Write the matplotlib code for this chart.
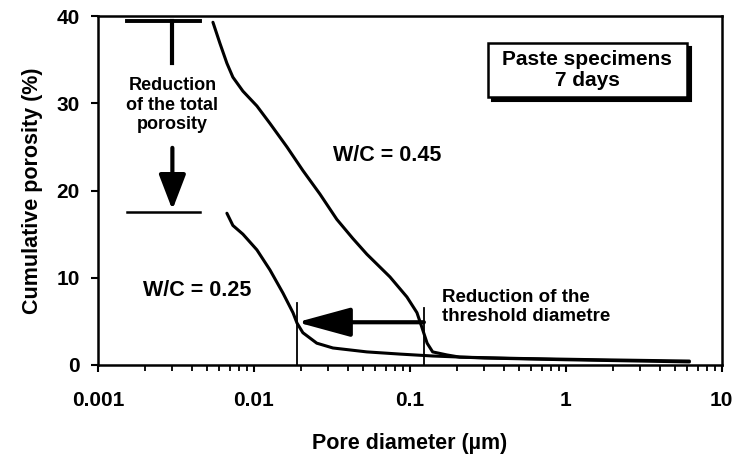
import numpy as np
import matplotlib.pyplot as plt
from matplotlib.patches import Rectangle

plt.rcParams['font.family'] = ['Liberation Sans', 'DejaVu Sans']
plt.rcParams['font.weight'] = 'bold'

# W/C = 0.45 curve (pore diameter um, cumulative porosity %)
d45 = [0.00546, 0.00605, 0.00671, 0.00733, 0.0085, 0.01045, 0.01267, 0.01629,
       0.0206, 0.0265, 0.034, 0.0431, 0.053, 0.0745, 0.0957, 0.111, 0.119,
       0.129, 0.140, 0.173, 0.209, 0.5, 1.6, 6.2]
p45 = [39.3, 36.9, 34.6, 33.0, 31.4, 29.7, 27.7, 25.0,
       22.3, 19.6, 16.7, 14.5, 12.7, 10.1, 7.8, 6.0, 4.4,
       2.5, 1.5, 1.15, 0.9, 0.75, 0.6, 0.45]

# W/C = 0.25 curve
d25 = [0.00671, 0.00733, 0.0085, 0.01045, 0.01267, 0.01535, 0.0178, 0.0189,
       0.0206, 0.0253, 0.0321, 0.053, 0.0863, 0.140, 0.3, 1.0, 3.0, 6.2]
p25 = [17.4, 16.0, 15.0, 13.2, 10.9, 8.25, 6.0, 4.8,
       3.7, 2.5, 1.95, 1.5, 1.25, 1.03, 0.8, 0.6, 0.45, 0.35]

xticks = [0.001, 0.01, 0.1, 1, 10]
xticklabels = ['0.001', '0.01', '0.1', '1', '10']
yticks = [0, 10, 20, 30, 40]

# threshold diameters and total porosity levels
thr25, thr45 = 0.0189, 0.123
tot45, tot25 = 39.5, 17.5

fig = plt.figure(figsize=(7.35, 4.62), dpi=100)
ax = fig.add_axes([0.1333, 0.21, 0.8487, 0.755])

ax.plot(d45, p45, color='black', lw=2.2, solid_capstyle='round', solid_joinstyle='round')
ax.plot(d25, p25, color='black', lw=2.2, solid_capstyle='round', solid_joinstyle='round')

ax.set_xscale('log')
ax.set_xlim(0.001, 10)
ax.set_ylim(0, 40)
ax.set_xticks(xticks)
ax.set_xticklabels(xticklabels)
ax.set_yticks(yticks)
ax.tick_params(axis='both', which='major', direction='out', length=5, width=1.5,
               labelsize=15, pad=8)
ax.tick_params(axis='x', which='minor', direction='out', length=4, width=1.3)
ax.tick_params(axis='x', which='major', pad=14)
for s in ax.spines.values():
    s.set_linewidth(1.8)

ax.set_xlabel('Pore diameter (µm)', fontsize=15.5, fontweight='bold', labelpad=16)
ax.set_ylabel('Cumulative porosity (%)', fontsize=15.5, fontweight='bold', labelpad=10)

# threshold markers
ax.plot([thr25, thr25], [0, 7.1], color='black', lw=1.3)
ax.plot([thr45, thr45], [0, 6.5], color='black', lw=1.3)
ax.annotate('', xy=(thr25, 4.9), xytext=(thr45, 4.9),
            arrowprops=dict(arrowstyle='-|>,head_length=1.1,head_width=0.3',
                            color='black', lw=3, mutation_scale=30,
                            shrinkA=0, shrinkB=0))
ax.text(0.16, 6.6, 'Reduction of the\nthreshold diametre', fontsize=13.5,
        fontweight='bold', ha='left', va='center', linespacing=1.15)

# total porosity markers
xa = 0.003
ax.plot([0.00153, 0.0045], [tot45, tot45], color='black', lw=2.8)
ax.plot([0.00153, 0.0045], [tot25, tot25], color='black', lw=1.8)
ax.plot([xa, xa], [tot45, 34.6], color='black', lw=3)
ax.annotate('', xy=(xa, 17.8), xytext=(xa, 24.9),
            arrowprops=dict(arrowstyle='-|>,head_length=0.86,head_width=0.33',
                            color='black', lw=3, mutation_scale=25,
                            shrinkA=0, shrinkB=0))
ax.text(xa, 29.8, 'Reduction\nof the total\nporosity', fontsize=13,
        fontweight='bold', ha='center', va='center', linespacing=1.2)

ax.text(0.0713, 24.0, 'W/C = 0.45', fontsize=15.5, fontweight='bold',
        ha='center', va='center')
ax.text(0.00431, 8.5, 'W/C = 0.25', fontsize=15.5, fontweight='bold',
        ha='center', va='center')

# boxed label with drop shadow
bx, by, bw, bh = 0.625, 0.768, 0.319, 0.155
ax.add_patch(Rectangle((bx + 0.006, by - 0.011), bw, bh, transform=ax.transAxes,
                       fc='black', ec='black', lw=1.5, zorder=4))
ax.add_patch(Rectangle((bx, by), bw, bh, transform=ax.transAxes,
                       fc='white', ec='black', lw=1.8, zorder=5))
ax.text(bx + bw / 2, by + bh / 2, 'Paste specimens\n7 days', transform=ax.transAxes,
        fontsize=15, fontweight='bold', ha='center', va='center',
        linespacing=1.1, zorder=6)

fig.savefig('out.png', dpi=100)
